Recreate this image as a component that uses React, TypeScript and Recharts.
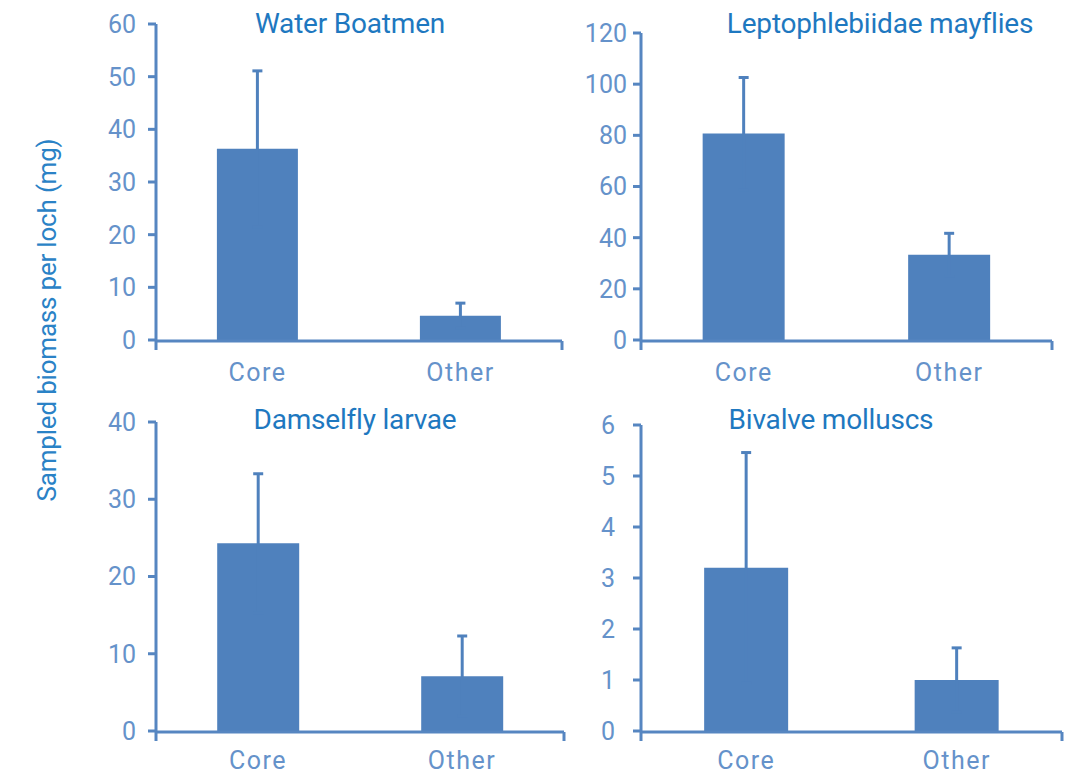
import { Bar, BarChart, ErrorBar, XAxis, YAxis } from "recharts";

const CATEGORIES = ["Core", "Other"];

const BOATMEN = [36.3, 4.6];
const BOATMEN_ERR = [14.8, 2.4];

const MAYFLIES = [80.7, 33.3];
const MAYFLIES_ERR = [21.9, 8.4];

const DAMSELFLY = [24.3, 7.1];
const DAMSELFLY_ERR = [9.0, 5.2];

const BIVALVE = [3.2, 1.0];
const BIVALVE_ERR = [2.26, 0.63];

const BOATMEN_TICKS = [0, 10, 20, 30, 40, 50, 60];
const MAYFLIES_TICKS = [0, 20, 40, 60, 80, 100, 120];
const DAMSELFLY_TICKS = [0, 10, 20, 30, 40];
const BIVALVE_TICKS = [0, 1, 2, 3, 4, 5, 6];

const BAR = "#4f81bd";
const AXIS = "#5686c1";
const TICK_TEXT = "#6592ca";
const TITLE = "#1e78c0";

const FONT = "Roboto, 'Noto Sans', sans-serif";

// symmetric SE; the lower half sits inside the bar and is hidden by the fill
function buildRows(values: number[], errors: number[]) {
  return CATEGORIES.map((name, i) => ({
    name,
    value: values[i],
    err: errors[i],
  }));
}

type PanelProps = {
  title: string;
  values: number[];
  errors: number[];
  ticks: number[];
  left: number;
  top: number;
  width: number;
  height: number;
  margin: { top: number; right: number; bottom: number; left: number };
  yWidth: number;
  labelGap: number;
  catGap: number;
  titleX: number;
  titleY: number;
};

function Panel(p: PanelProps) {
  const rows = buildRows(p.values, p.errors);
  const max = p.ticks[p.ticks.length - 1];
  return (
    <div style={{ position: "absolute", left: p.left, top: p.top }}>
      <BarChart width={p.width} height={p.height} data={rows} margin={p.margin} barCategoryGap="30%">
        {/* tick marks sit on the category boundaries, so a plain 0..2 axis draws them */}
        <XAxis
          xAxisId="edges"
          type="number"
          domain={[0, 2]}
          ticks={[0, 1, 2]}
          height={1}
          tickFormatter={() => ""}
          tickSize={9}
          stroke={AXIS}
          strokeWidth={3}
          allowDataOverflow
        />
        <XAxis
          xAxisId="cat"
          dataKey="name"
          height={1}
          axisLine={false}
          tickLine={false}
          tickSize={0}
          tickMargin={p.catGap}
          tick={{ fill: TICK_TEXT, fontSize: 25, letterSpacing: 1.5 }}
        />
        <YAxis
          domain={[0, max]}
          ticks={p.ticks}
          width={p.yWidth}
          tickSize={8}
          tickMargin={p.labelGap}
          stroke={AXIS}
          strokeWidth={3}
          tick={{ fill: TICK_TEXT, fontSize: 25 }}
          allowDataOverflow
        />
        <Bar xAxisId="cat" dataKey="value" fill={BAR} isAnimationActive={false}>
          <ErrorBar dataKey="err" direction="y" width={5} stroke={BAR} strokeWidth={3} />
        </Bar>
      </BarChart>
      <div
        style={{
          position: "absolute",
          left: p.titleX - 200,
          width: 400,
          top: p.titleY,
          textAlign: "center",
          color: TITLE,
          fontSize: 28,
          letterSpacing: -0.2,
          whiteSpace: "nowrap",
          lineHeight: "30px",
        }}
      >
        {p.title}
      </div>
    </div>
  );
}

export default function App() {
  return (
    <div
      style={{
        position: "absolute",
        left: 0,
        top: 0,
        width: 1074,
        height: 777,
        background: "#fff",
        fontFamily: FONT,
        overflow: "hidden",
      }}
    >
      <div
        style={{
          position: "absolute",
          left: 47 - 200,
          top: 320 - 15,
          width: 400,
          height: 30,
          lineHeight: "30px",
          textAlign: "center",
          transform: "rotate(-90deg)",
          color: "#2a82c6",
          fontSize: 26,
          letterSpacing: -0.2,
          whiteSpace: "nowrap",
        }}
      >
        Sampled biomass per loch (mg)
      </div>

      <Panel
        title="Water Boatmen"
        values={BOATMEN}
        errors={BOATMEN_ERR}
        ticks={BOATMEN_TICKS}
        left={0}
        top={0}
        width={570}
        height={390}
        margin={{ top: 24, right: 8, bottom: 48, left: 0 }}
        yWidth={156}
        labelGap={12}
        catGap={23}
        titleX={350}
        titleY={9}
      />
      <Panel
        title="Leptophlebiidae mayflies"
        values={MAYFLIES}
        errors={MAYFLIES_ERR}
        ticks={MAYFLIES_TICKS}
        left={570}
        top={0}
        width={500}
        height={390}
        margin={{ top: 33, right: 18, bottom: 48, left: 0 }}
        yWidth={71}
        labelGap={6}
        catGap={23}
        titleX={310}
        titleY={9}
      />
      <Panel
        title="Damselfly larvae"
        values={DAMSELFLY}
        errors={DAMSELFLY_ERR}
        ticks={DAMSELFLY_TICKS}
        left={0}
        top={390}
        width={570}
        height={387}
        margin={{ top: 32, right: 6, bottom: 44, left: 0 }}
        yWidth={156}
        labelGap={12}
        catGap={20}
        titleX={355}
        titleY={15}
      />
      <Panel
        title="Bivalve molluscs"
        values={BIVALVE}
        errors={BIVALVE_ERR}
        ticks={BIVALVE_TICKS}
        left={570}
        top={390}
        width={500}
        height={387}
        margin={{ top: 35, right: 8, bottom: 44, left: 0 }}
        yWidth={71}
        labelGap={18}
        catGap={20}
        titleX={261}
        titleY={15}
      />
    </div>
  );
}
